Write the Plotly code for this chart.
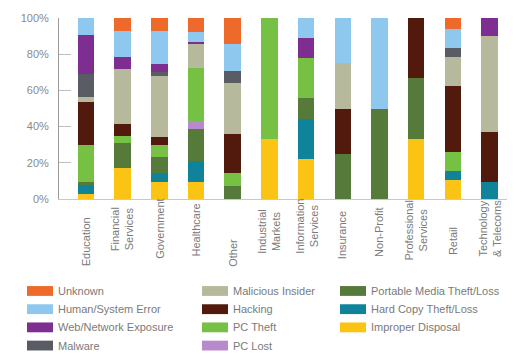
import plotly.graph_objects as go

# Industry sectors (x categories) and their display labels
categories = ["Education", "Financial Services", "Government", "Healthcare", "Other",
              "Industrial Markets", "Information Services", "Insurance", "Non-Profit",
              "Professional Services", "Retail", "Technology & Telecoms"]
category_labels = ["Education", "Financial<br>Services", "Government", "Healthcare", "Other",
                   "Industrial<br>Markets", "Information<br>Services", "Insurance", "Non-Profit",
                   "Professional<br>Services", "Retail", "Technology<br>& Telecoms"]

# Y-axis ticks
y_ticks = [0, 20, 40, 60, 80, 100]
y_tick_labels = ["0%", "20%", "40%", "60%", "80%", "100%"]

# Share of breaches (%) by cause, stacked bottom to top
improper_disposal = [2.7, 17.1, 9.4, 9.4, 0, 33.3, 22.2, 0, 0, 33.3, 10.5, 0]
hard_copy_theft   = [5.0, 0, 4.7, 11.7, 0, 0, 22.2, 0, 0, 0, 5.2, 9.4]
portable_media    = [1.8, 14.1, 9.3, 17.6, 7.2, 0, 11.1, 25, 50, 33.3, 0, 0]
pc_lost           = [0, 0, 0, 4.2, 0, 0, 0, 0, 0, 0, 0, 0]
pc_theft          = [20.6, 3.6, 6.7, 29.7, 7.2, 66.7, 22.2, 0, 0, 0, 10.1, 0]
hacking           = [23.6, 6.6, 4.1, 0, 21.6, 0, 0, 25, 0, 33.4, 36.9, 27.5]
malicious_insider = [2.7, 30.7, 33.9, 13.0, 28.0, 0, 0, 25, 0, 0, 16.0, 53.2]
malware           = [12.6, 0, 1.8, 0, 6.8, 0, 0, 0, 0, 0, 4.7, 0]
web_exposure      = [21.5, 6.6, 4.9, 1.4, 0, 0, 11.1, 0, 0, 0, 0, 9.9]
human_error       = [9.5, 14.1, 18.0, 5.3, 14.8, 0, 11.1, 25, 50, 0, 10.8, 0]
unknown           = [0, 7.2, 7.2, 7.7, 14.4, 0, 0, 0, 0, 0, 5.8, 0]

series = [
    ("Improper Disposal", improper_disposal, "#FBC414"),
    ("Hard Copy Theft/Loss", hard_copy_theft, "#0F8399"),
    ("Portable Media Theft/Loss", portable_media, "#557A39"),
    ("PC Lost", pc_lost, "#B98ACB"),
    ("PC Theft", pc_theft, "#76C143"),
    ("Hacking", hacking, "#511A0D"),
    ("Malicious Insider", malicious_insider, "#B6B99B"),
    ("Malware", malware, "#595C63"),
    ("Web/Network Exposure", web_exposure, "#7E2D91"),
    ("Human/System Error", human_error, "#8EC8EE"),
    ("Unknown", unknown, "#EE6A2B"),
]

# Legend columns (top to bottom)
legend_columns = [
    ["Unknown", "Human/System Error", "Web/Network Exposure", "Malware"],
    ["Malicious Insider", "Hacking", "PC Theft", "PC Lost"],
    ["Portable Media Theft/Loss", "Hard Copy Theft/Loss", "Improper Disposal"],
]

W, H = 530, 354
PLOT_L, PLOT_R, PLOT_T, PLOT_B = 59, 507, 15, 199
TEXT = "#7a7a7a"
FONT = "Liberation Sans"


def px(xp):
    return (xp - PLOT_L) / (PLOT_R - PLOT_L)


def py(yp):
    return (PLOT_B - yp) / (PLOT_B - PLOT_T)


fig = go.Figure()
for name, vals, color in series:
    fig.add_trace(go.Bar(x=categories, y=vals, name=name,
                         marker=dict(color=color, line=dict(width=0)),
                         showlegend=False))

# Rotated category labels below the axis
label_centers = [243, 230, 229, 231, 254, 232, 227, 236, 232, 231, 242, 229]
annotations = []
for cat, lab, yc in zip(categories, category_labels, label_centers):
    annotations.append(dict(x=cat, xref="x", y=py(yc), yref="paper", text=lab,
                            textangle=-90, showarrow=False, xanchor="center",
                            yanchor="middle", align="center",
                            font=dict(family=FONT, size=11, color=TEXT)))

# Hand-laid legend: wide swatches in three columns
colors = {n: c for n, _, c in series}
col_x = [27, 202, 340]
row_y = [292.5, 311, 329.5, 348]
shapes = []
for ci, col in enumerate(legend_columns):
    for ri, name in enumerate(col):
        x0 = col_x[ci]
        yc = row_y[ri]
        shapes.append(dict(type="rect", xref="paper", yref="paper",
                           x0=px(x0), x1=px(x0 + 26), y0=py(yc + 5), y1=py(yc - 5),
                           fillcolor=colors[name], line=dict(width=0)))
        annotations.append(dict(x=px(x0 + 29), y=py(yc), xref="paper", yref="paper",
                                text=name, showarrow=False, xanchor="left",
                                yanchor="middle",
                                font=dict(family=FONT, size=11, color=TEXT)))

fig.update_layout(
    width=W, height=H,
    margin=dict(l=PLOT_L, r=W - PLOT_R, t=PLOT_T, b=H - PLOT_B, pad=0),
    barmode="stack", barnorm="percent", bargap=0.55,
    plot_bgcolor="white", paper_bgcolor="white",
    showlegend=False,
    xaxis=dict(type="category", categoryorder="array", categoryarray=categories,
               range=[-0.736, 11.477], showticklabels=False, ticks="",
               showline=True, linecolor="#c8c8c8", linewidth=1, showgrid=False,
               zeroline=False, layer="above traces"),
    yaxis=dict(range=[0, 100], tickmode="array", tickvals=y_ticks, ticktext=y_tick_labels,
               ticks="inside", ticklen=12, tickcolor="#bdbdbd", tickwidth=1,
               showline=True, linecolor="#9a9a9a", linewidth=1, showgrid=False,
               zeroline=False, ticklabelstandoff=7,
               tickfont=dict(family=FONT, size=11, color="#8a8a8a")),
    annotations=annotations,
    shapes=shapes,
)

fig.write_html("out.html")
